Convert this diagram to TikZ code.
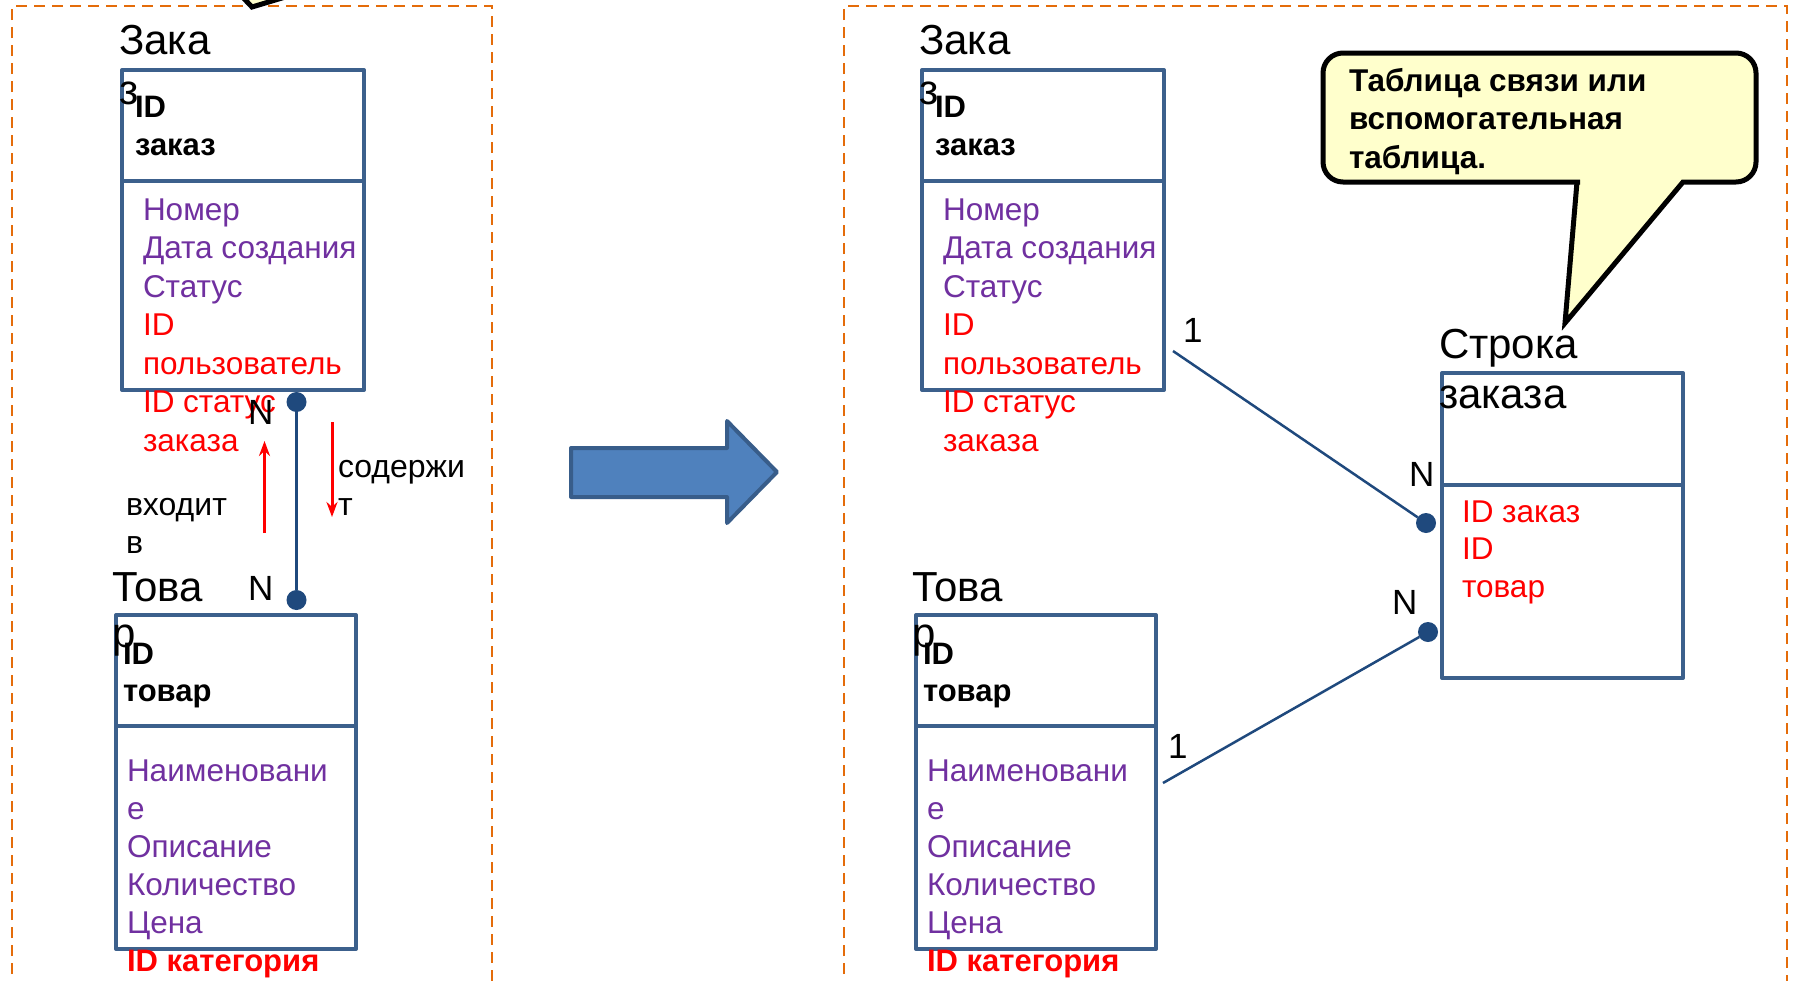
\documentclass[tikz,border=0pt]{standalone}
\usepackage{fontspec}
\setmainfont{Liberation Sans}
\usetikzlibrary{arrows.meta}
\definecolor{boxblue}{RGB}{60,96,140}
\definecolor{linkblue}{RGB}{31,73,125}
\definecolor{attrpurple}{RGB}{112,48,160}
\definecolor{keyred}{RGB}{255,0,0}
\definecolor{dashorange}{RGB}{228,108,10}
\definecolor{arrowfill}{RGB}{79,129,189}
\definecolor{arrowedge}{RGB}{56,93,138}
\definecolor{noteyellow}{RGB}{255,255,204}
\tikzset{
  lbl/.style={anchor=base west, inner sep=0pt, outer sep=0pt},
  titletxt/.style={lbl, font=\fontsize{42}{48}\selectfont},
  keytxt/.style={lbl, font=\fontsize{31}{36}\selectfont\bfseries},
  attrtxt/.style={lbl, font=\fontsize{31.5}{36}\selectfont, text=attrpurple},
  fktxt/.style={lbl, font=\fontsize{31.5}{36}\selectfont, text=keyred},
  fkboldtxt/.style={lbl, font=\fontsize{31}{36}\selectfont\bfseries, text=keyred},
  cardtxt/.style={lbl, font=\fontsize{35}{40}\selectfont},
  reltxt/.style={lbl, font=\fontsize{32}{36}\selectfont},
  notetxt/.style={lbl, font=\fontsize{31.5}{36}\selectfont\bfseries},
  erbox/.style={draw=boxblue, line width=4pt, line join=round},
  panelframe/.style={draw=dashorange, line width=2.5pt, dash pattern=on 11pt off 7pt},
  linkline/.style={draw=linkblue, line width=2.5pt},
  linkdot/.style={circle, fill=linkblue, minimum size=20pt, inner sep=0pt, outer sep=0pt},
  redarrow/.style={draw=keyred, line width=3pt, -{Stealth[length=15pt,width=11pt]}},
  bigarrow/.style={fill=arrowfill, draw=arrowedge, line width=4pt, line join=round},
  notebox/.style={fill=noteyellow, draw=black, line width=5pt, line join=miter},
}
\newcommand{\zakazpart}[2]{%
\begin{scope}[xshift=#1]
  \draw[erbox] (122,70) rectangle (364,390);
  \draw[erbox] (122,181) -- (364,181);
  \node[titletxt] (#2zt1) at (119,54) {Зака};
  \node[titletxt] (#2zt2) at (119,104) {з};
  \node[keytxt] (#2zk1) at (135,117) {ID};
  \node[keytxt] (#2zk2) at (135,155) {заказ};
  \node[attrtxt] (#2za1) at (143,220) {Номер};
  \node[attrtxt] (#2za2) at (143,258.5) {Дата создания};
  \node[attrtxt] (#2za3) at (143,297) {Статус};
  \node[fktxt] (#2za4) at (143,335.5) {ID};
  \node[fktxt] (#2za5) at (143,374) {пользователь};
  \node[fktxt] (#2za6) at (143,412.5) {ID статус};
  \node[fktxt] (#2za7) at (143,451) {заказа};
\end{scope}}
\newcommand{\tovarpart}[2]{%
\begin{scope}[xshift=#1]
  \draw[erbox] (116,615) rectangle (356,949);
  \draw[erbox] (116,726) -- (356,726);
  \node[titletxt] (#2tt1) at (112,601) {Това};
  \node[titletxt] (#2tt2) at (112,647) {р};
  \node[keytxt] (#2tk1) at (123,664) {ID};
  \node[keytxt] (#2tk2) at (123,701) {товар};
  \node[attrtxt] (#2ta1) at (127,781) {Наименовани};
  \node[attrtxt] (#2ta2) at (127,819) {е};
  \node[attrtxt] (#2ta3) at (127,857) {Описание};
  \node[attrtxt] (#2ta4) at (127,895) {Количество};
  \node[attrtxt] (#2ta5) at (127,933) {Цена};
  \node[fkboldtxt] (#2ta6) at (127,971) {ID категория};
\end{scope}}
\begin{document}
\begin{tikzpicture}[x=1pt, y=-1pt]
\useasboundingbox (0,0) rectangle (1795,980);
\fill[white] (0,0) rectangle (1795,980);
% panels
\draw[panelframe] (12,1010) -- (12,6) -- (492,6) -- (492,1010);
\draw[panelframe] (844,1010) -- (844,6) -- (1787,6) -- (1787,1010);
% fragment of a callout tail at the top edge
\draw[notebox] (232,-14) -- (252,7) -- (322,-14);
% left panel
\zakazpart{0pt}{l}
\tovarpart{0pt}{l}
\node[linkdot] (ldot1) at (296.5,402) {};
\node[linkdot] (ldot2) at (296.5,600) {};
\draw[linkline] (ldot1) -- (ldot2);
\node[cardtxt] (ln1) at (248,424) {N};
\node[cardtxt] (ln2) at (248,600) {N};
\coordinate (upa) at (264.5,533);
\coordinate (upb) at (264.5,441);
\draw[redarrow] (upa) -- (upb);
\coordinate (dna) at (332,422);
\coordinate (dnb) at (332,517);
\draw[redarrow] (dna) -- (dnb);
\node[reltxt] (cont1) at (338,477) {содержи};
\node[reltxt] (cont2) at (338,515) {т};
\node[reltxt] (inc1) at (126,515) {входит};
\node[reltxt] (inc2) at (126,553) {в};
% big arrow
\draw[bigarrow] (571,448) -- (727,448) -- (727,421) -- (777,472) -- (727,523) -- (727,497) -- (571,497) -- cycle;
% right panel
\zakazpart{800pt}{r}
\tovarpart{800pt}{r}
\draw[erbox] (1442,373) rectangle (1683,678);
\draw[erbox] (1442,485) -- (1683,485);
\node[titletxt] (st1) at (1439,358) {Строка};
\node[titletxt] (st2) at (1439,408) {заказа};
\node[fktxt] (sa1) at (1462,522) {ID заказ};
\node[fktxt] (sa2) at (1462,559.5) {ID};
\node[fktxt] (sa3) at (1462,597) {товар};
\coordinate (r1a) at (1173,351);
\node[linkdot] (r1b) at (1426,523) {};
\draw[linkline] (r1a) -- (r1b);
\coordinate (r2a) at (1163,783);
\node[linkdot] (r2b) at (1428,632) {};
\draw[linkline] (r2a) -- (r2b);
\node[cardtxt] (rc1) at (1183,342) {1};
\node[cardtxt] (rn1) at (1409,486) {N};
\node[cardtxt] (rc2) at (1168,758) {1};
\node[cardtxt] (rn2) at (1392,614) {N};
% callout
\draw[notebox] (1565,323) -- (1683,182) -- (1700,182) [rounded corners=20pt] -- (1756,182) -- (1756,53) -- (1323,53) -- (1323,182) -- (1560,182) [sharp corners] -- (1577,182) -- cycle;
\node[notetxt] (nt1) at (1349,91) {Таблица связи или};
\node[notetxt] (nt2) at (1349,129.5) {вспомогательная};
\node[notetxt] (nt3) at (1349,168) {таблица.};
\end{tikzpicture}
\end{document}
